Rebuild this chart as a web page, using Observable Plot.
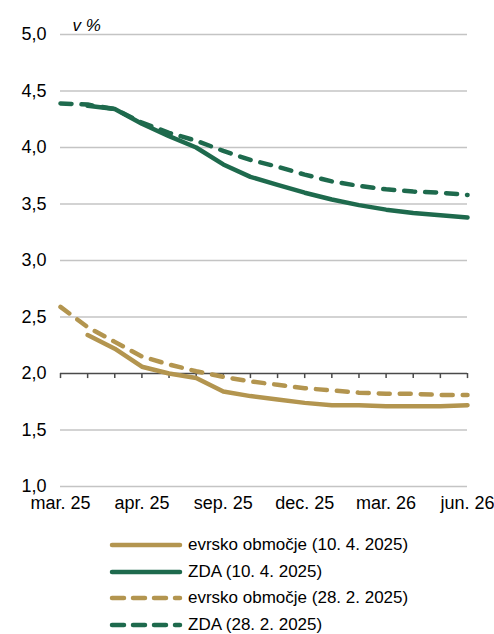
<!DOCTYPE html>
<html>
<head>
<meta charset="utf-8">
<script src="https://cdn.jsdelivr.net/npm/d3@7"></script>
<script src="https://cdn.jsdelivr.net/npm/@observablehq/plot@0.6"></script>
<style>
  html, body { margin: 0; padding: 0; background: #fff; }
  body { width: 494px; height: 634px; overflow: hidden; font-family: "Liberation Sans", Arial, sans-serif; }
  #legend { padding-top: 8px; }
  .row { display: flex; align-items: center; height: 26.6px; padding-left: 108px; font-size: 17px; color: #000; }
  .row svg { margin-right: 4px; }
</style>
</head>
<body>
<div id="chart"></div>
<div id="legend"></div>
<script>
// monthly index 0 = mar. 25 ... 15 = jun. 26
const monthIndex = d3.range(16);
const tickIndex = [0, 3, 6, 9, 12, 15];
const tickLabels = ["mar. 25", "apr. 25", "sep. 25", "dec. 25", "mar. 26", "jun. 26"];
const yTicks = [1.0, 1.5, 2.0, 2.5, 3.0, 3.5, 4.0, 4.5, 5.0];

const seriesNames = [
  "evrsko območje (10. 4. 2025)",
  "ZDA (10. 4. 2025)",
  "evrsko območje (28. 2. 2025)",
  "ZDA (28. 2. 2025)"
];
const euApr = [null, 2.34, 2.22, 2.06, 2.00, 1.96, 1.84, 1.80, 1.77, 1.74, 1.72, 1.72, 1.71, 1.71, 1.71, 1.72];
const usApr = [null, 4.37, 4.34, 4.21, 4.10, 4.00, 3.85, 3.74, 3.67, 3.60, 3.54, 3.49, 3.45, 3.42, 3.40, 3.38];
const euFeb = [2.59, 2.41, 2.28, 2.15, 2.08, 2.02, 1.97, 1.93, 1.90, 1.87, 1.85, 1.83, 1.82, 1.82, 1.81, 1.81];
const usFeb = [4.39, 4.38, 4.34, 4.22, 4.13, 4.06, 3.97, 3.89, 3.83, 3.76, 3.70, 3.66, 3.63, 3.61, 3.60, 3.58];

const gold = "#b3954f";
const green = "#1e6a4d";
const styles = [
  {stroke: gold, dash: null},
  {stroke: green, dash: null},
  {stroke: gold, dash: "11,10"},
  {stroke: green, dash: "11,10"}
];
const allSeries = [euApr, usApr, euFeb, usFeb];

const toPts = (arr) => arr.map((v, i) => ({i, v})).filter(d => d.v != null);

const lineMarks = allSeries.map((arr, k) =>
  Plot.line(toPts(arr), {
    x: "i", y: "v",
    stroke: styles[k].stroke,
    strokeWidth: 4.5,
    strokeDasharray: styles[k].dash,
    strokeLinecap: "round",
    strokeLinejoin: "round"
  })
);

const chart = Plot.plot({
  width: 494,
  height: 524,
  marginLeft: 60,
  marginRight: 27,
  marginTop: 34,
  marginBottom: 38,
  style: {fontFamily: "Liberation Sans, Arial, sans-serif", fontSize: "18px", color: "#000", background: "#fff"},
  x: {domain: [0, 15], axis: null},
  y: {domain: [1, 5], axis: null},
  marks: [
    Plot.ruleY(yTicks.filter(t => t !== 2), {stroke: "#c4c4c4", strokeWidth: 1.5}),
    Plot.ruleY([2], {stroke: "#4a4a4a", strokeWidth: 1.5}),
    Plot.ruleX(monthIndex, {x: d => d, y1: 2, y2: 1.955, stroke: "#4a4a4a", strokeWidth: 1.5}),
    Plot.axisY(yTicks, {tickSize: 0, tickPadding: 14, label: null, tickFormat: d => d.toFixed(1).replace(".", ","), fontSize: 18}),
    Plot.axisX(tickIndex, {tickSize: 0, tickPadding: 10, label: null, tickFormat: (d, i) => tickLabels[i], fontSize: 18}),
    Plot.text(["v %"], {frameAnchor: "top-left", dx: 12, dy: -16, fontStyle: "italic", fontSize: 17, textAnchor: "start"}),
    ...lineMarks
  ]
});
document.getElementById("chart").appendChild(chart);

const legend = document.getElementById("legend");
seriesNames.forEach((name, k) => {
  const row = document.createElement("div");
  row.className = "row";
  const s = d3.create("svg").attr("width", 76).attr("height", 10);
  s.append("line").attr("x1", 4).attr("x2", 72).attr("y1", 5).attr("y2", 5)
    .attr("stroke", styles[k].stroke).attr("stroke-width", 4.5)
    .attr("stroke-linecap", "round")
    .attr("stroke-dasharray", styles[k].dash ? "12,9" : null);
  row.appendChild(s.node());
  const t = document.createElement("span");
  t.textContent = name;
  row.appendChild(t);
  legend.appendChild(row);
});
</script>
</body>
</html>
